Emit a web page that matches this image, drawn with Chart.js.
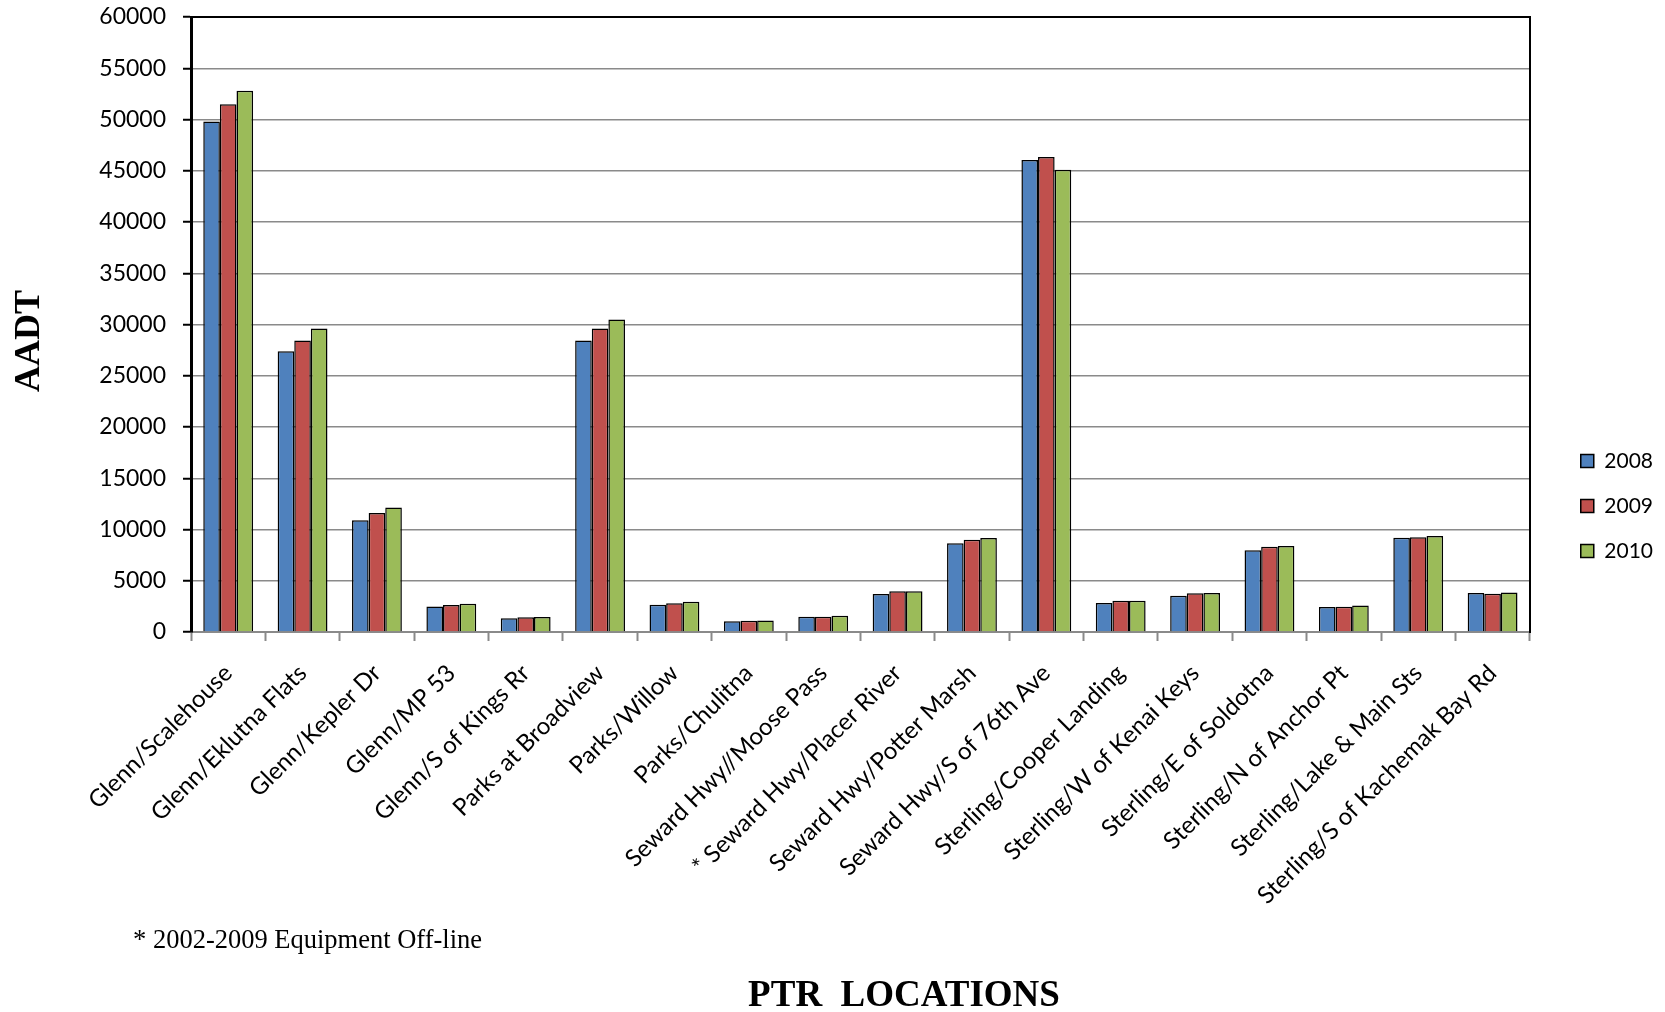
<!DOCTYPE html>
<html>
<head>
<meta charset="utf-8">
<title>PTR Locations AADT</title>
<script src="https://cdn.jsdelivr.net/npm/chart.js@4.4.1/dist/chart.umd.min.js"></script>
<style>
  html, body { margin: 0; padding: 0; background: #fff; }
  #wrap { width: 1665px; height: 1012px; }
</style>
</head>
<body>
<div id="wrap"><canvas id="aadt-chart" width="1665" height="1012"></canvas></div>
<script>
/* ── AADT by PTR location, 2008-2010 ── */

const locations = [
  'Glenn/Scalehouse', 'Glenn/Eklutna Flats', 'Glenn/Kepler Dr', 'Glenn/MP 53',
  'Glenn/S of Kings Rr', 'Parks at Broadview', 'Parks/Willow', 'Parks/Chulitna',
  'Seward Hwy//Moose Pass', '* Seward Hwy/Placer River', 'Seward Hwy/Potter Marsh',
  'Seward Hwy/S of 76th Ave', 'Sterling/Cooper Landing', 'Sterling/W of Kenai Keys',
  'Sterling/E of Soldotna', 'Sterling/N of Anchor Pt', 'Sterling/Lake & Main Sts',
  'Sterling/S of Kachemak Bay Rd'
];

const aadt2008 = [49800, 27400, 10900, 2500, 1350, 28450, 2670, 1050, 1500, 3700, 8670, 46050, 2840, 3530, 7980, 2430, 9200, 3810];
const aadt2009 = [51500, 28450, 11600, 2630, 1450, 29600, 2800, 1100, 1500, 3970, 9000, 46350, 3040, 3770, 8310, 2470, 9240, 3730];
const aadt2010 = [52800, 29600, 12150, 2750, 1470, 30500, 2950, 1130, 1580, 3970, 9160, 45100, 3040, 3810, 8390, 2590, 9360, 3850];

const seriesNames = ['2008', '2009', '2010'];
const seriesColors = ['#4F81BD', '#C0504D', '#9BBB59'];

const yMin = 0;
const yMax = 60000;
const yStep = 5000;

const SANS = 'Lato, "Open Sans", sans-serif';
const SERIF = '"Liberation Serif", "Times New Roman", serif';

// top edge of the plot box, axis captions and footnote
const framePlugin = {
  id: 'frame',
  afterDraw(chart) {
    const { ctx, chartArea: a } = chart;
    ctx.save();
    ctx.strokeStyle = '#000';
    ctx.lineWidth = 2;
    ctx.beginPath();
    ctx.moveTo(a.left, a.top);
    ctx.lineTo(a.right + 1, a.top);
    ctx.stroke();

    ctx.fillStyle = '#000';
    ctx.textBaseline = 'alphabetic';
    ctx.textAlign = 'left';
    ctx.font = '26.5px ' + SERIF;
    ctx.fillText('* 2002-2009 Equipment Off-line', 133, 948);

    ctx.textAlign = 'center';
    ctx.font = 'bold 37px ' + SERIF;
    ctx.fillText('PTR  LOCATIONS', 904, 1006);

    ctx.translate(30, 341);
    ctx.rotate(-Math.PI / 2);
    ctx.textBaseline = 'middle';
    ctx.font = 'bold 36px ' + SERIF;
    ctx.fillText('AADT', 0, 0);
    ctx.restore();
  }
};

const datasets = [aadt2008, aadt2009, aadt2010].map((vals, i) => ({
  label: seriesNames[i],
  data: vals,
  backgroundColor: seriesColors[i],
  borderColor: '#000',
  borderWidth: 1.5,
  borderSkipped: 'start',
  categoryPercentage: 0.67,
  barPercentage: 1.0,
}));

new Chart(document.getElementById('aadt-chart').getContext('2d'), {
  type: 'bar',
  data: { labels: locations, datasets },
  plugins: [framePlugin],
  options: {
    responsive: false,
    animation: false,
    devicePixelRatio: 1,
    layout: { padding: { top: 0, right: 2, bottom: 0, left: 0 } },
    plugins: {
      tooltip: { enabled: false },
      legend: {
        position: 'right',
        align: 'center',
        labels: {
          font: { family: SANS, size: 21 },
          color: '#000',
          boxWidth: 13,
          boxHeight: 13,
          padding: 24,
        }
      }
    },
    scales: {
      x: {
        afterFit: s => { s.height = 380; },
        grid: {
          offset: true,
          drawOnChartArea: false,
          tickLength: 9,
          tickColor: '#8a8a8a',
          tickWidth: 2,
        },
        border: { color: '#8a8a8a', width: 2 },
        ticks: {
          autoSkip: false,
          minRotation: 45,
          maxRotation: 45,
          padding: 18,
          color: '#000',
          font: { family: SANS, size: 24 },
        }
      },
      y: {
        min: yMin,
        max: yMax,
        afterFit: s => { s.width = 191; },
        grid: {
          color: '#8a8a8a',
          lineWidth: 1.5,
          tickLength: 8,
          tickColor: '#000',
          tickWidth: 2,
        },
        border: { color: '#000', width: 3 },
        ticks: {
          stepSize: yStep,
          padding: 17,
          color: '#000',
          // zero line height keeps the top label from pushing the plot down
          font: { family: SANS, size: 23, lineHeight: 0 },
          callback: v => String(v),
        }
      },
      yRight: {
        position: 'right',
        min: yMin,
        max: yMax,
        afterFit: s => { s.width = 27; },
        grid: { drawOnChartArea: false, drawTicks: false },
        border: { color: '#000', width: 2 },
        ticks: { display: false },
      }
    }
  }
});
</script>
</body>
</html>
